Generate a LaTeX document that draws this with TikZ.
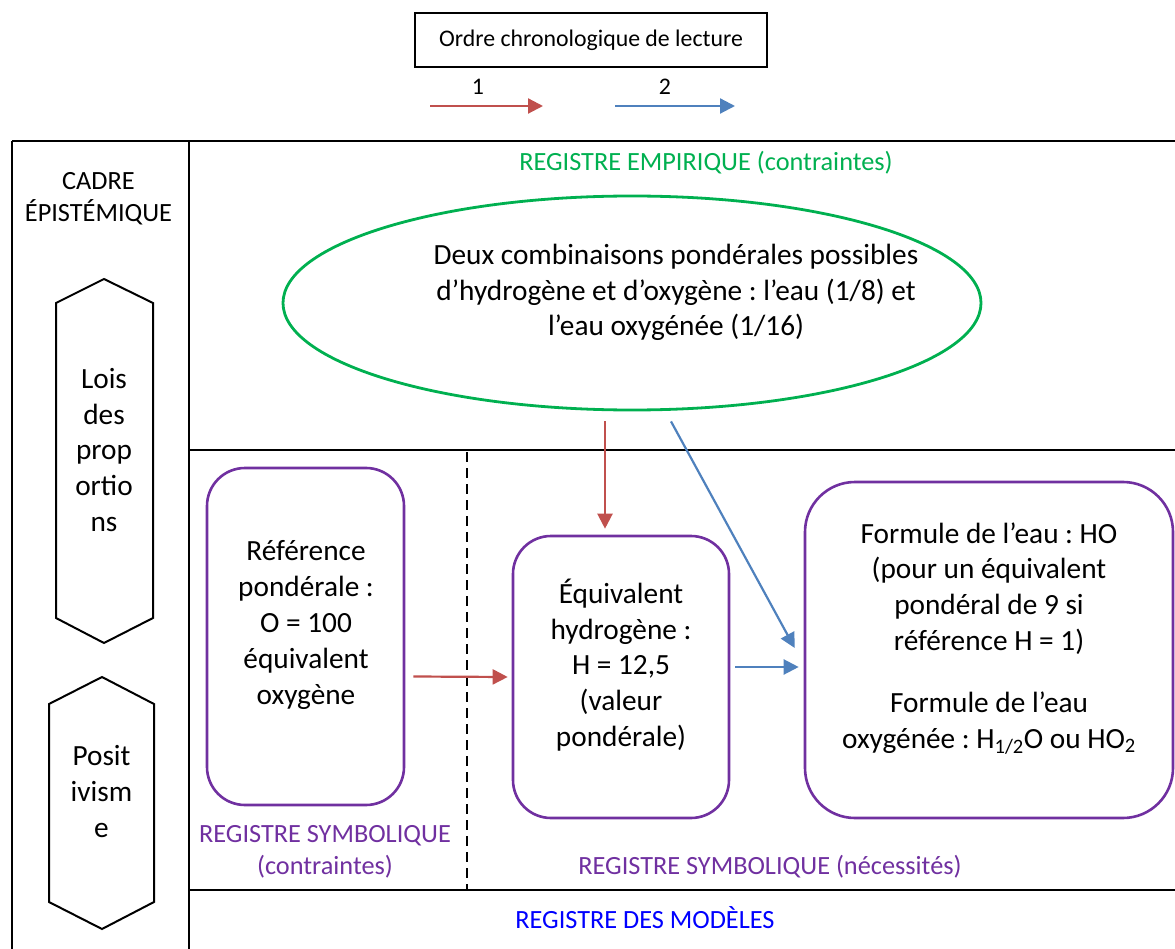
\documentclass[tikz,border=0pt]{standalone}
\usepackage{fontspec}
\setmainfont{Carlito}
\usetikzlibrary{arrows.meta,shapes.geometric}
\definecolor{offred}{HTML}{C0504D}
\definecolor{offblue}{HTML}{4F81BD}
\definecolor{offgreen}{HTML}{00B050}
\definecolor{offpurple}{HTML}{7030A0}
\definecolor{pureblue}{HTML}{0000FF}
\frenchspacing
\begin{document}
\begin{tikzpicture}[x=1pt,y=-1pt,
  frame/.style={line width=2.5pt, draw=black},
  hexa/.style={line width=2pt, line join=miter, draw=black},
  body/.style={font=\fontsize{29.3}{35.8}\selectfont, align=center, inner sep=0pt},
  lab/.style={font=\fontsize{26.3}{32}\selectfont, align=center, inner sep=0pt},
  leg/.style={font=\fontsize{23.8}{28}\selectfont, inner sep=0pt},
  regbox/.style={draw=offpurple, line width=2.6pt, rounded corners=38pt, inner sep=0pt},
  redarr/.style={draw=offred, line width=2.2pt, -{Triangle[length=15pt,width=15pt]}},
  bluearr/.style={draw=offblue, line width=2.2pt, -{Triangle[length=15pt,width=15pt]}}
]
\useasboundingbox (0,0) rectangle (1175,949);
\clip (0,0) rectangle (1175,949);

% legend
\node[leg, draw=black, line width=1.4pt, minimum width=352pt, minimum height=54pt] (legbox) at (591,40) {Ordre chronologique de lecture};
\node[leg] (one) at (478,87) {1};
\node[leg] (two) at (665,87) {2};
\coordinate (r1) at (430,106);
\coordinate (r2) at (543,106);
\coordinate (b1) at (615,106);
\coordinate (b2) at (735,106);
\draw[redarr] (r1) -- (r2);
\draw[bluearr] (b1) -- (b2);

% frame
\draw[frame] (12,141) -- (1185,141);
\draw[frame] (12,141) -- (12,960);
\draw[frame] (189,141) -- (189,960);
\draw[frame] (189,450) -- (1185,450);
\draw[frame] (189,890) -- (1185,890);
\draw[line width=2.5pt, dash pattern=on 10pt off 6pt] (467,452) -- (467,890);

% epistemic column
\node[lab] (cadre) at (98.5,199) {CADRE\\ÉPISTÉMIQUE};
\draw[hexa] (104,279) -- (153,303) -- (153,618) -- (104,643) -- (56,618) -- (56,303) -- cycle;
\node[body] (lois) at (104,450) {Lois\\des\\prop\\ortio\\ns};
\draw[hexa] (102,677) -- (154,704) -- (154,902) -- (102,929) -- (49,902) -- (49,704) -- cycle;
\node[body] (posit) at (101.5,791.5) {Posit\\ivism\\e};

% empirical register
\node[lab, text=offgreen] (regemp) at (706,163) {REGISTRE EMPIRIQUE (contraintes)};
\node[ellipse, draw=offgreen, line width=2.8pt, minimum width=698pt, minimum height=214pt, inner sep=0pt] (ell) at (632,303) {};
\node[body] (elltext) at (676,292.5) {Deux combinaisons pondérales possibles\\d’hydrogène et d’oxygène : l’eau (1/8) et\\l’eau oxygénée (1/16)};

% symbolic boxes
\node[regbox, minimum width=197pt, minimum height=337pt] (box1) at (305.5,636.5) {};
\node[body] (box1text) at (306,625) {Référence\\pondérale :\\O = 100\\équivalent\\oxygène};
\node[regbox, minimum width=216pt, minimum height=282pt] (box2) at (621,677) {};
\node[body] (box2text) at (621,665) {Équivalent\\hydrogène :\\H = 12,5\\(valeur\\pondérale)};
\node[regbox, rounded corners=50pt, minimum width=368pt, minimum height=336pt] (box3) at (989,650) {};
\node[body] (box3text) at (989,638.5) {Formule de l’eau : HO\\(pour un équivalent\\pondéral de 9 si\\référence H = 1)\\[26pt]Formule de l’eau\\oxygénée : H\textsubscript{1/2}O ou HO\textsubscript{2}};

% register labels
\node[lab, text=offpurple] (regsymc) at (325,852) {REGISTRE SYMBOLIQUE\\(contraintes)};
\node[lab, text=offpurple] (regsymn) at (770,867) {REGISTRE SYMBOLIQUE (nécessités)};
\node[lab, text=pureblue] (regmod) at (645,918) {REGISTRE DES MODÈLES};

% connectors
\draw[redarr] ([xshift=-27pt,yshift=-10pt]ell.south) -- ([xshift=-16pt,yshift=6pt]box2.north);
\draw[bluearr] ([xshift=39pt,yshift=-10pt]ell.south) -- ([xshift=-9pt,yshift=2pt]box3.west);
\draw[redarr] ([xshift=8pt,yshift=-40pt]box1.east) -- ([xshift=-4pt]box2.west);
\draw[bluearr] ([xshift=5pt,yshift=10pt]box2.east) -- ([xshift=-5pt,yshift=-17pt]box3.west);
\end{tikzpicture}
\end{document}
